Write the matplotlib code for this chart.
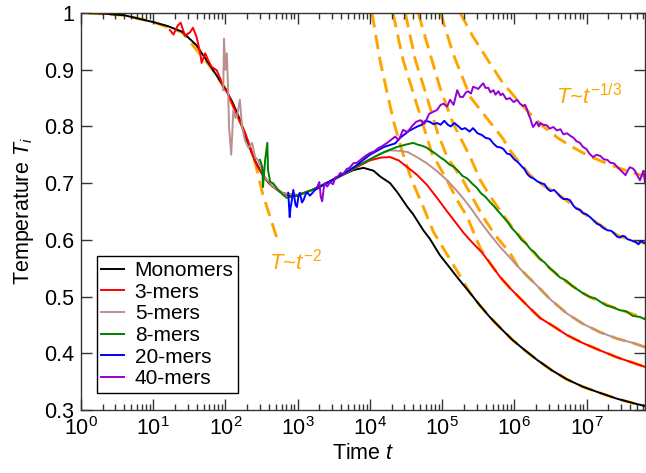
"""
Cluster temperatures T_i(t) for monomers up to 40-mers, with the
T~t^-2 (Haff) and T~t^-1/3 guide curves.
"""

import numpy as np
import matplotlib
matplotlib.use("Agg")
import matplotlib.pyplot as plt
from matplotlib.ticker import FuncFormatter, FixedLocator, LogLocator, NullFormatter

plt.rcParams["font.family"] = ["Liberation Sans", "DejaVu Sans"]
plt.rcParams["mathtext.fontset"] = "custom"
plt.rcParams["mathtext.rm"] = "Liberation Sans"
plt.rcParams["mathtext.it"] = "Liberation Sans:italic"
plt.rcParams["mathtext.bf"] = "Liberation Sans:bold"

COLORS = {
    "mono":  "#000000",
    "m3":    "#ff0000",
    "m5":    "#bc8f8f",
    "m8":    "#008000",
    "m20":   "#0000ff",
    "m40":   "#9400d3",
    "fit":   "#ffa500",
    "axis":  "#333333",
}

# ── Data (times stored as log10 t) ───────────────────────────────────────────

mono_logt = [0.1, 0.3, 0.6, 1.0, 1.2, 1.4, 1.6, 1.8, 2.0, 2.1, 2.2, 2.3, 2.4,
             2.5, 2.6, 2.75, 2.9, 3.0, 3.2, 3.4, 3.6, 3.77, 3.91, 4.05, 4.14,
             4.28, 4.38, 4.52, 4.60, 4.74, 4.83, 4.97, 5.10, 5.21, 5.39, 5.52,
             5.66, 5.82, 5.98, 6.15, 6.32, 6.52, 6.73, 6.95, 7.19, 7.42, 7.65,
             7.81]
mono_T = [1.0, 0.999, 0.996, 0.984, 0.977, 0.967, 0.943, 0.905, 0.866, 0.842,
          0.812, 0.775, 0.742, 0.718, 0.700, 0.685, 0.677, 0.678, 0.688, 0.700,
          0.713, 0.723, 0.727, 0.722, 0.712, 0.700, 0.684, 0.658, 0.645, 0.617,
          0.602, 0.573, 0.552, 0.534, 0.506, 0.485, 0.464, 0.443, 0.423, 0.405,
          0.388, 0.370, 0.354, 0.341, 0.330, 0.320, 0.312, 0.307]

m3_logt = [1.23, 1.28, 1.34, 1.38, 1.44, 1.51, 1.55, 1.60, 1.65, 1.67, 1.72,
           1.76, 1.81, 1.88, 1.93, 1.97, 2.02, 2.06, 2.13, 2.20, 2.27, 2.33,
           2.38, 2.45, 2.55, 2.65, 2.8, 3.0, 3.2, 3.4, 3.6, 3.8, 4.0, 4.15,
           4.28, 4.40, 4.52, 4.65, 4.79, 4.93, 5.07, 5.18, 5.30, 5.42, 5.55,
           5.68, 5.80, 5.94, 6.08, 6.22, 6.36, 6.55, 6.73, 6.95, 7.19, 7.42,
           7.65, 7.81]
m3_T = [0.970, 0.962, 0.978, 0.983, 0.960, 0.966, 0.974, 0.958, 0.930, 0.912,
        0.929, 0.917, 0.905, 0.899, 0.884, 0.868, 0.862, 0.850, 0.829, 0.808,
        0.790, 0.768, 0.748, 0.728, 0.708, 0.694, 0.682, 0.679, 0.688, 0.700,
        0.713, 0.727, 0.740, 0.745, 0.746, 0.740, 0.728, 0.715, 0.697, 0.674,
        0.650, 0.632, 0.612, 0.595, 0.578, 0.556, 0.535, 0.515, 0.497, 0.479,
        0.462, 0.447, 0.432, 0.418, 0.405, 0.393, 0.383, 0.376]

m5_logt = [1.97, 1.98, 2.00, 2.02, 2.04, 2.05, 2.08, 2.11, 2.14, 2.16, 2.20,
           2.23, 2.27, 2.32, 2.37, 2.41, 2.45, 2.55, 2.65, 2.8, 3.0, 3.2, 3.4,
           3.6, 3.8, 4.0, 4.15, 4.28, 4.40, 4.52, 4.65, 4.79, 4.93, 5.07, 5.18,
           5.30, 5.42, 5.53, 5.66, 5.80, 5.93, 6.05, 6.18, 6.30, 6.50, 6.73,
           6.95, 7.19, 7.42, 7.65, 7.81]
m5_T = [0.864, 0.955, 0.900, 0.929, 0.852, 0.799, 0.750, 0.829, 0.815, 0.817,
        0.847, 0.799, 0.776, 0.762, 0.771, 0.746, 0.741, 0.710, 0.695, 0.682,
        0.679, 0.688, 0.700, 0.713, 0.728, 0.742, 0.752, 0.758, 0.757, 0.755,
        0.746, 0.735, 0.721, 0.705, 0.690, 0.672, 0.652, 0.632, 0.610, 0.588,
        0.570, 0.553, 0.536, 0.521, 0.495, 0.470, 0.452, 0.437, 0.426, 0.418,
        0.411]

m8_logt = [2.48, 2.51, 2.52, 2.55, 2.58, 2.59, 2.62, 2.66, 2.73, 2.80, 2.85,
           3.0, 3.2, 3.4, 3.6, 3.8, 4.0, 4.2, 4.38, 4.50, 4.60, 4.66, 4.72,
           4.78, 4.85, 4.91, 4.98, 5.04, 5.10, 5.16, 5.22, 5.28, 5.35, 5.41,
           5.48, 5.54, 5.60, 5.66, 5.72, 5.78, 5.85, 5.91, 5.97, 6.03, 6.10,
           6.16, 6.22, 6.28, 6.35, 6.42, 6.50, 6.56, 6.63, 6.72, 6.80, 6.88,
           6.95, 7.05, 7.12, 7.20, 7.28, 7.37, 7.46, 7.55, 7.64, 7.74, 7.81]
m8_T = [0.741, 0.728, 0.693, 0.741, 0.771, 0.723, 0.702, 0.700, 0.688, 0.679,
        0.674, 0.679, 0.688, 0.700, 0.713, 0.728, 0.742, 0.755, 0.764, 0.768,
        0.771, 0.768, 0.766, 0.763, 0.757, 0.752, 0.745, 0.740, 0.733, 0.729,
        0.722, 0.713, 0.708, 0.700, 0.692, 0.682, 0.676, 0.667, 0.659, 0.650,
        0.640, 0.631, 0.620, 0.612, 0.600, 0.594, 0.584, 0.578, 0.567, 0.560,
        0.549, 0.543, 0.534, 0.528, 0.519, 0.512, 0.506, 0.499, 0.497, 0.490,
        0.484, 0.481, 0.476, 0.474, 0.466, 0.464, 0.460]

m20_logt = [2.87, 2.89, 2.90, 2.92, 2.94, 2.97, 2.99, 3.01, 3.03, 3.06, 3.08,
            3.11, 3.13, 3.17, 3.20, 3.24, 3.4, 3.6, 3.8, 4.0, 4.2, 4.35, 4.42,
            4.48, 4.54, 4.60, 4.66, 4.72, 4.77, 4.83, 4.88, 4.93, 4.98, 5.03,
            5.08, 5.12, 5.17, 5.21, 5.27, 5.32, 5.38, 5.43, 5.49, 5.55, 5.60,
            5.66, 5.71, 5.76, 5.81, 5.85, 5.90, 5.94, 6.00, 6.05, 6.10, 6.14,
            6.18, 6.22, 6.27, 6.32, 6.37, 6.42, 6.46, 6.50, 6.55, 6.59, 6.64,
            6.68, 6.73, 6.77, 6.82, 6.86, 6.91, 6.95, 7.00, 7.05, 7.10, 7.15,
            7.19, 7.22, 7.26, 7.29, 7.34, 7.38, 7.42, 7.46, 7.50, 7.53, 7.57,
            7.60, 7.64, 7.68, 7.72, 7.75, 7.78, 7.81]
m20_T = [0.683, 0.640, 0.655, 0.670, 0.688, 0.662, 0.658, 0.676, 0.683, 0.666,
         0.670, 0.680, 0.684, 0.678, 0.682, 0.688, 0.700, 0.714, 0.730, 0.750,
         0.764, 0.770, 0.780, 0.786, 0.792, 0.796, 0.800, 0.803, 0.810, 0.808,
         0.804, 0.806, 0.803, 0.810, 0.803, 0.800, 0.806, 0.802, 0.795, 0.797,
         0.791, 0.797, 0.788, 0.785, 0.780, 0.778, 0.770, 0.764, 0.763, 0.760,
         0.752, 0.751, 0.742, 0.737, 0.730, 0.725, 0.716, 0.711, 0.708, 0.703,
         0.700, 0.698, 0.690, 0.686, 0.688, 0.683, 0.676, 0.672, 0.672, 0.670,
         0.660, 0.655, 0.653, 0.647, 0.645, 0.640, 0.634, 0.628, 0.626, 0.622,
         0.619, 0.617, 0.616, 0.612, 0.606, 0.604, 0.607, 0.606, 0.601, 0.600,
         0.598, 0.596, 0.592, 0.598, 0.596, 0.594]

m40_logt = [3.27, 3.30, 3.32, 3.34, 3.36, 3.38, 3.41, 3.45, 3.49, 3.52, 3.56,
            3.59, 3.63, 3.68, 3.72, 3.77, 3.82, 3.88, 3.94, 4.00, 4.06, 4.12,
            4.18, 4.24, 4.30, 4.35, 4.40, 4.46, 4.52, 4.58, 4.64, 4.70, 4.76,
            4.82, 4.88, 4.93, 4.98, 5.02, 5.07, 5.11, 5.16, 5.21, 5.25, 5.29,
            5.33, 5.36, 5.40, 5.43, 5.47, 5.50, 5.54, 5.57, 5.60, 5.64, 5.67,
            5.71, 5.74, 5.78, 5.81, 5.84, 5.89, 5.94, 5.99, 6.04, 6.08, 6.12,
            6.15, 6.18, 6.20, 6.22, 6.24, 6.26, 6.29, 6.31, 6.34, 6.36, 6.40,
            6.45, 6.49, 6.54, 6.59, 6.64, 6.68, 6.73, 6.78, 6.82, 6.86, 6.91,
            6.95, 7.00, 7.04, 7.09, 7.14, 7.19, 7.24, 7.29, 7.33, 7.38, 7.43,
            7.47, 7.51, 7.54, 7.57, 7.60, 7.64, 7.67, 7.71, 7.74, 7.77, 7.79,
            7.81]
m40_T = [0.693, 0.702, 0.676, 0.668, 0.690, 0.700, 0.694, 0.702, 0.698, 0.710,
         0.712, 0.718, 0.716, 0.725, 0.727, 0.735, 0.736, 0.742, 0.748, 0.753,
         0.756, 0.762, 0.766, 0.771, 0.777, 0.782, 0.776, 0.794, 0.790, 0.800,
         0.808, 0.811, 0.805, 0.822, 0.826, 0.829, 0.838, 0.840, 0.835, 0.847,
         0.838, 0.864, 0.852, 0.852, 0.860, 0.862, 0.858, 0.870, 0.868, 0.866,
         0.872, 0.876, 0.868, 0.868, 0.860, 0.864, 0.856, 0.862, 0.855, 0.858,
         0.848, 0.850, 0.843, 0.847, 0.840, 0.836, 0.838, 0.829, 0.820, 0.815,
         0.806, 0.799, 0.804, 0.808, 0.800, 0.806, 0.803, 0.802, 0.796, 0.799,
         0.793, 0.795, 0.786, 0.788, 0.783, 0.780, 0.774, 0.771, 0.764, 0.760,
         0.752, 0.746, 0.750, 0.748, 0.742, 0.741, 0.736, 0.735, 0.728, 0.723,
         0.718, 0.714, 0.722, 0.728, 0.726, 0.722, 0.712, 0.705, 0.716, 0.722,
         0.700]

# Haff-law guide (T ~ t^-2)
haff_logt = [0.1, 0.6, 1.0, 1.4, 1.8, 2.0, 2.2, 2.4, 2.52, 2.62, 2.73]
haff_T = [1.0, 0.996, 0.984, 0.966, 0.904, 0.866, 0.810, 0.742, 0.679, 0.640,
          0.596]

# late-time guides (T ~ t^-1/3), one per species
fit1_logt = [4.03, 4.14, 4.24, 4.33, 4.45, 4.58, 4.74, 4.88, 5.07, 5.25, 5.39,
             5.52, 5.66, 5.82, 5.98, 6.15, 6.32, 6.52, 6.73, 6.95, 7.19, 7.42,
             7.65, 7.81]
fit1_T = [1.0, 0.917, 0.859, 0.808, 0.755, 0.705, 0.658, 0.614, 0.574, 0.536,
          0.506, 0.485, 0.464, 0.443, 0.423, 0.405, 0.388, 0.370, 0.354, 0.341,
          0.330, 0.320, 0.312, 0.307]
fit2_logt = [4.32, 4.46, 4.63, 4.79, 4.86, 5.07, 5.20, 5.35, 5.53, 5.68, 5.80,
             5.94, 6.08, 6.22, 6.36, 6.55, 6.73, 6.95, 7.19, 7.42, 7.65, 7.81]
fit2_T = [1.0, 0.917, 0.847, 0.781, 0.752, 0.705, 0.672, 0.640, 0.585, 0.556,
          0.535, 0.515, 0.497, 0.479, 0.462, 0.447, 0.432, 0.418, 0.405, 0.393,
          0.383, 0.376]
fit3_logt = [4.49, 4.63, 4.79, 4.94, 5.07, 5.29, 5.57, 5.75, 5.94, 6.05, 6.18,
             6.30, 6.50, 6.73, 6.95, 7.19, 7.42, 7.65, 7.81]
fit3_T = [1.0, 0.917, 0.852, 0.788, 0.746, 0.705, 0.640, 0.606, 0.577, 0.553,
          0.536, 0.521, 0.495, 0.470, 0.452, 0.437, 0.426, 0.418, 0.411]
fit4_logt = [4.67, 4.79, 4.97, 5.15, 5.29, 5.39, 5.53, 5.68, 5.84, 5.97, 6.12,
             6.22, 6.35, 6.50, 6.63, 6.80, 6.95, 7.05, 7.20, 7.37, 7.55, 7.74,
             7.81]
fit4_T = [1.0, 0.947, 0.869, 0.806, 0.771, 0.746, 0.705, 0.674, 0.645, 0.622,
          0.600, 0.584, 0.567, 0.549, 0.534, 0.519, 0.506, 0.499, 0.490, 0.481,
          0.473, 0.465, 0.462]
fit5_logt = [4.98, 5.15, 5.39, 5.66, 5.84, 5.94, 6.08, 6.22, 6.40, 6.59, 6.77,
             6.95, 7.12, 7.29, 7.45, 7.60, 7.72, 7.81]
fit5_T = [1.0, 0.929, 0.852, 0.808, 0.779, 0.758, 0.735, 0.714, 0.696, 0.682,
          0.665, 0.648, 0.632, 0.618, 0.607, 0.600, 0.596, 0.594]
fit6_logt = [5.25, 5.43, 5.66, 5.84, 6.04, 6.22, 6.40, 6.60, 6.80, 7.00, 7.20,
             7.40, 7.60, 7.81]
fit6_T = [1.0, 0.958, 0.912, 0.877, 0.847, 0.822, 0.800, 0.780, 0.764, 0.750,
          0.739, 0.729, 0.720, 0.712]

SERIES = [
    ("Monomers", mono_logt, mono_T, COLORS["mono"]),
    ("3-mers",   m3_logt,   m3_T,   COLORS["m3"]),
    ("5-mers",   m5_logt,   m5_T,   COLORS["m5"]),
    ("8-mers",   m8_logt,   m8_T,   COLORS["m8"]),
    ("20-mers",  m20_logt,  m20_T,  COLORS["m20"]),
    ("40-mers",  m40_logt,  m40_T,  COLORS["m40"]),
]
GUIDES = [
    (haff_logt, haff_T),
    (fit1_logt, fit1_T), (fit2_logt, fit2_T), (fit3_logt, fit3_T),
    (fit4_logt, fit4_T), (fit5_logt, fit5_T), (fit6_logt, fit6_T),
]

# ── Figure ────────────────────────────────────────────────────────────────────

W, H = 646, 473
fig = plt.figure(figsize=(W / 100, H / 100), dpi=100)
ax = fig.add_axes([81 / W, 1 - 410 / H, (645 - 81) / W, (410 - 13) / H])

for lt, T in GUIDES:
    ax.plot(10.0 ** np.asarray(lt), T, color=COLORS["fit"], lw=2.1,
            linestyle=(0, (5, 2.6)), zorder=1)

for label, lt, T, c in SERIES:
    ax.plot(10.0 ** np.asarray(lt), T, color=c, lw=1.4, label=label, zorder=2)

ax.text(10 ** 2.61, 0.561, r"$T$~$t^{-2}$", color=COLORS["fit"],
        fontsize=16, va="center", ha="left")
ax.text(10 ** 6.58, 0.852, r"$T$~$t^{-1/3}$", color=COLORS["fit"],
        fontsize=16, va="center", ha="left")

ax.set_xscale("log")
ax.set_xlim(1, 10 ** 7.81)
ax.set_ylim(0.3, 1.0)
ax.set_yticks([0.3, 0.4, 0.5, 0.6, 0.7, 0.8, 0.9, 1.0])
ax.yaxis.set_major_formatter(FuncFormatter(lambda v, _: f"{v:g}"))
ax.xaxis.set_major_locator(FixedLocator([10.0 ** k for k in range(8)]))
ax.xaxis.set_minor_locator(LogLocator(base=10, subs=np.arange(2, 10), numticks=20))
ax.xaxis.set_minor_formatter(NullFormatter())
ax.xaxis.set_major_formatter(FuncFormatter(
    lambda v, _: r"$10^{%d}$" % round(np.log10(v))))

ax.tick_params(which="both", direction="in", top=True, right=True,
               colors=COLORS["axis"], width=1.0, labelsize=15.5,
               labelcolor="black")
ax.tick_params(which="major", length=8)
ax.tick_params(which="minor", length=4.5)
ax.tick_params(axis="y", pad=5)
ax.tick_params(axis="x", pad=5)
for spine in ax.spines.values():
    spine.set_edgecolor(COLORS["axis"])
    spine.set_linewidth(1.0)

ax.set_xlabel(r"Time $t$", fontsize=15.5, labelpad=2)
ax.set_ylabel(r"Temperature $T_i$", fontsize=15.5, labelpad=6)

leg = ax.legend(loc="lower left", bbox_to_anchor=(0.028, 0.043),
                borderaxespad=0, fontsize=15, handlelength=1.1,
                handletextpad=0.5, labelspacing=0.13, borderpad=0.22,
                fancybox=False, framealpha=1, edgecolor="black")
leg.get_frame().set_linewidth(1.0)

fig.savefig("out.png", dpi=100)
